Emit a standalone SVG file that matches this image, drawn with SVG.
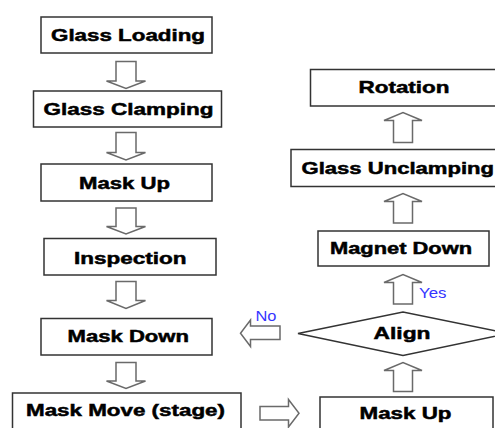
<svg xmlns="http://www.w3.org/2000/svg" width="495" height="428" viewBox="0 0 495 428">
  <style>
    .box { fill: #ffffff; stroke: #333333; stroke-width: 1.5; }
    .lbl { font-family: "Liberation Sans", Arial, sans-serif; font-weight: bold; font-size: 17px; fill: #000000; stroke: #000000; stroke-width: 0.5; }
    .arr { fill: #ffffff; stroke: #6a6a6a; stroke-width: 1.5; stroke-linejoin: miter; }
    .tag { font-family: "Liberation Sans", Arial, sans-serif; font-size: 14px; fill: #3535ff; }
  </style>
  <rect width="495" height="428" fill="#ffffff"/>

  <!-- left column: process steps -->
  <g id="glass-loading">
    <rect class="box" x="41" y="17" width="171" height="36"/>
    <text class="lbl" x="51" y="41" textLength="154" lengthAdjust="spacingAndGlyphs">Glass Loading</text>
  </g>
  <g id="glass-clamping">
    <rect class="box" x="33.5" y="91" width="188" height="36"/>
    <text class="lbl" x="43.5" y="114.5" textLength="170" lengthAdjust="spacingAndGlyphs">Glass Clamping</text>
  </g>
  <g id="mask-up-1">
    <rect class="box" x="41" y="164" width="171" height="37"/>
    <text class="lbl" x="79" y="188.5" textLength="91" lengthAdjust="spacingAndGlyphs">Mask Up</text>
  </g>
  <g id="inspection">
    <rect class="box" x="44" y="238.5" width="172" height="36.5"/>
    <text class="lbl" x="74" y="263.5" textLength="112.5" lengthAdjust="spacingAndGlyphs">Inspection</text>
  </g>
  <g id="mask-down">
    <rect class="box" x="41" y="318.5" width="171" height="36.5"/>
    <text class="lbl" x="67.5" y="341.5" textLength="121.5" lengthAdjust="spacingAndGlyphs">Mask Down</text>
  </g>
  <g id="mask-move">
    <rect class="box" x="12.5" y="393" width="228.5" height="45"/>
    <text class="lbl" x="26" y="415.5" textLength="199" lengthAdjust="spacingAndGlyphs">Mask Move (stage)</text>
  </g>

  <!-- right column: process steps -->
  <g id="rotation">
    <rect class="box" x="310.5" y="69.5" width="200" height="36.5"/>
    <text class="lbl" x="358.5" y="92.5" textLength="91" lengthAdjust="spacingAndGlyphs">Rotation</text>
  </g>
  <g id="glass-unclamping">
    <rect class="box" x="291" y="149.5" width="220" height="37"/>
    <text class="lbl" x="301.5" y="173.5" textLength="192.5" lengthAdjust="spacingAndGlyphs">Glass Unclamping</text>
  </g>
  <g id="magnet-down">
    <rect class="box" x="318" y="231" width="171" height="35"/>
    <text class="lbl" x="330" y="254" textLength="142" lengthAdjust="spacingAndGlyphs">Magnet Down</text>
  </g>
  <g id="align">
    <polygon class="box" points="298,333.5 403,312 508,333.5 403,355.5"/>
    <text class="lbl" x="373.5" y="338.5" textLength="57" lengthAdjust="spacingAndGlyphs">Align</text>
  </g>
  <g id="mask-up-2">
    <rect class="box" x="320" y="397" width="173" height="45"/>
    <text class="lbl" x="359.5" y="419" textLength="92" lengthAdjust="spacingAndGlyphs">Mask Up</text>
  </g>

  <!-- block arrows between steps -->
  <g id="connectors">
    <!-- downward arrows, left column -->
    <path class="arr" d="M116,61.5 H136 V81 H145.5 L126,88.5 L106.5,81 H116 Z"/>
    <path class="arr" d="M116,132.5 H136 V152.5 H145.5 L126,160 L106.5,152.5 H116 Z"/>
    <path class="arr" d="M116,208 H136 V226.5 H145.5 L126,234 L106.5,226.5 H116 Z"/>
    <path class="arr" d="M116,281.5 H136 V300.5 H145.5 L126,308.5 L106.5,300.5 H116 Z"/>
    <path class="arr" d="M116,362.5 H136 V381 H145.5 L126,388.5 L106.5,381 H116 Z"/>
    <!-- stage move to right column -->
    <path class="arr" d="M260,406.5 H288.5 V399.5 L299,413.3 L288.5,427 V420 H260 Z"/>
    <!-- upward arrows, right column -->
    <path class="arr" d="M393.5,391.5 V370.5 H384 L403,362.5 L422,370.5 H412.5 V391.5 Z"/>
    <path class="arr" d="M393.5,304 V282.5 H384 L403,274.5 L422,282.5 H412.5 V304 Z"/>
    <path class="arr" d="M393.5,223 V201.5 H384 L403,193.5 L422,201.5 H412.5 V223 Z"/>
    <path class="arr" d="M393.5,142.5 V120.5 H384 L403,112.5 L422,120.5 H412.5 V142.5 Z"/>
    <!-- failed alignment back to mask down -->
    <path class="arr" d="M280,326 V339.5 H250.5 V346.5 L240.5,333.3 L250.5,320 V326 Z"/>
    <text class="tag" x="419" y="297.5" textLength="27.5" lengthAdjust="spacingAndGlyphs">Yes</text>
    <text class="tag" x="255.5" y="320.5" textLength="21" lengthAdjust="spacingAndGlyphs">No</text>
  </g>
</svg>
